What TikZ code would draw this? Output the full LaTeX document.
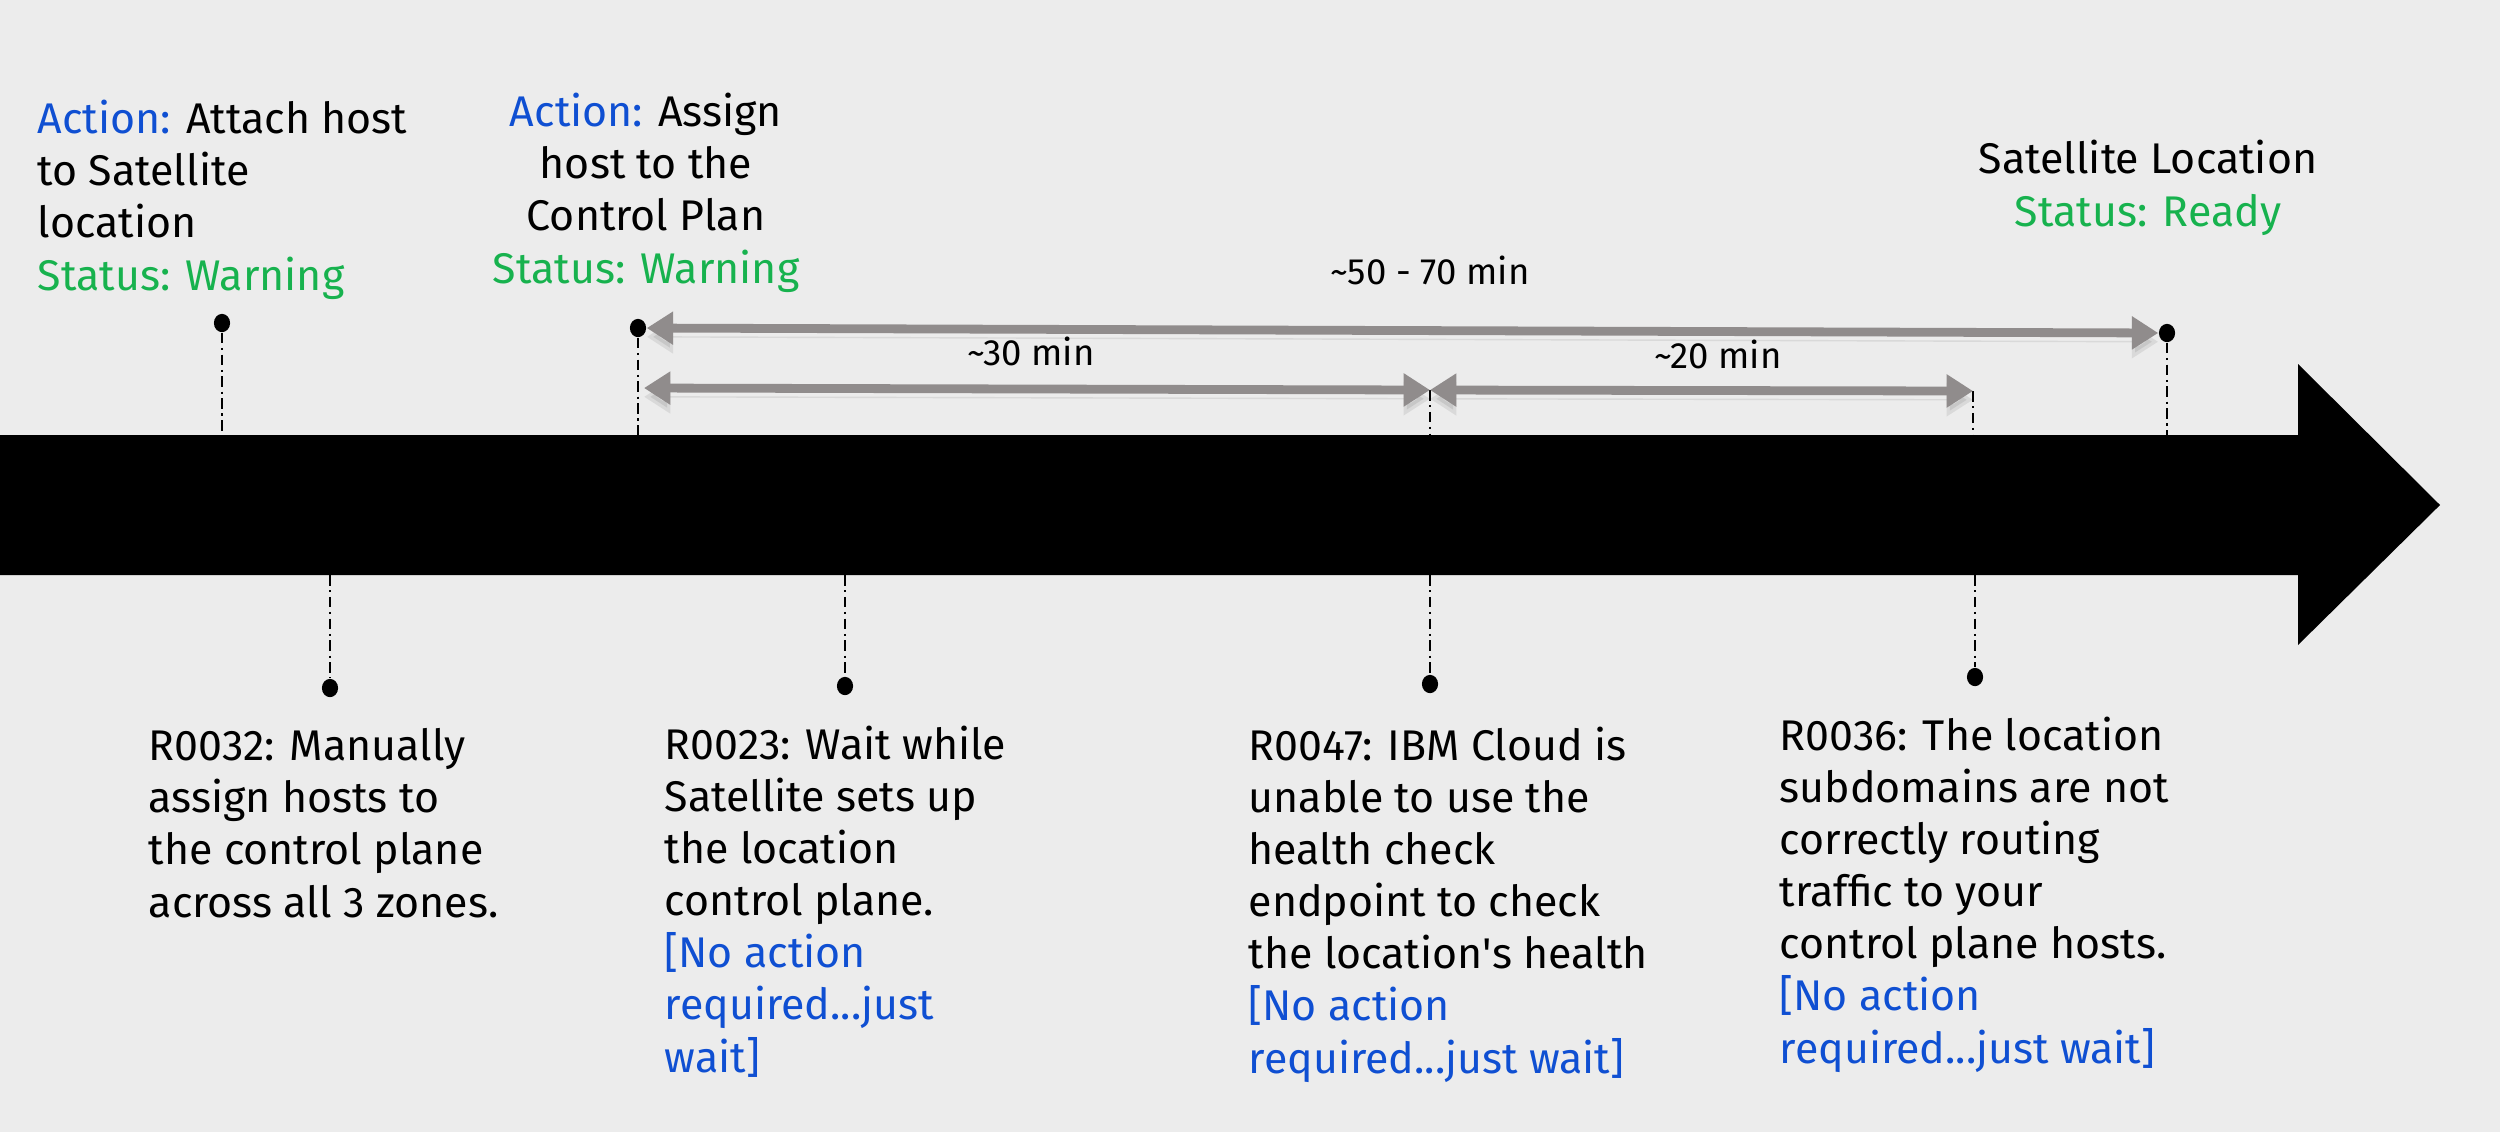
\documentclass[tikz,border=0pt]{standalone}
\usepackage{fontspec}
\setmainfont{Fira Sans}
\usepackage{xcolor}
\usepackage{tikz}
\usetikzlibrary{arrows.meta}
\definecolor{bgcol}{HTML}{ECECEC}
\definecolor{actblue}{HTML}{0F4FD2}
\definecolor{okgreen}{HTML}{17B24E}
\definecolor{spangray}{HTML}{908C8C}
\newcommand{\actc}[1]{\textcolor{actblue}{#1}}
\newcommand{\okc}[1]{\textcolor{okgreen}{#1}}
\tikzset{dot/.style={ellipse,fill=black,inner sep=0pt,minimum width=4.6pt,minimum height=5.2pt},
    tick/.style={draw,line width=0.5pt,dash pattern=on 3pt off 1.3pt on 0.6pt off 1.3pt},
    span/.style={draw=spangray,line width=2.5pt,
    {Triangle[width=9pt,length=7.5pt]}-{Triangle[width=9pt,length=7.5pt]},
    preaction={draw=black,opacity=0.08,transform canvas={yshift=-2.5pt}}},
    lbl/.style={font=\fontsize{12.2}{14.8}\selectfont,inner sep=0pt,align=left},
    dur/.style={font=\fontsize{10.4}{12}\selectfont,inner sep=0pt,anchor=base}}
\usetikzlibrary{shapes.geometric}

\begin{document}
\begin{tikzpicture}[x=0.01cm,y=-0.01cm]
            \fill[bgcol] (0,0) rectangle (2500,1132);
            \useasboundingbox (0,0) rectangle (2500,1132);
            \fill (0,435) -- (2298,435) -- (2298,364) -- (2440,505)
                -- (2298,645) -- (2298,575) -- (0,575) -- cycle;
            \coordinate (bartop) at (0,435);
            \coordinate (barbot) at (0,575);
            % above the bar
            \node[dot] (attach) at (222,323) {};
            \node[dot] (assign) at (638,328) {};
            \node[dot] (ready) at (2167,333) {};
            \coordinate (start30) at (644,388);
            \coordinate (mid) at (1430,390);
            \coordinate (end20) at (1973,391);
            \draw[tick] (attach) -- (attach |- bartop);
            \draw[tick] (assign) -- (assign |- bartop);
            \draw[tick] (ready) -- (ready |- bartop);
            \draw[tick] (mid) -- (mid |- bartop);
            \draw[tick] (end20) -- (end20 |- bartop);
            \draw[span] (assign) -- (ready);
            \draw[span] (start30) -- (mid);
            \draw[span] (mid) -- (end20);
            \node[dur] (d70) at (1430,284) {\textasciitilde50 - 70 min};
            \node[dur] (d30) at (1031,365) {\textasciitilde30 min};
            \node[dur] (d20) at (1718,368) {\textasciitilde20 min};
            \node[lbl,anchor=base west] (act1) at (37,290)
                {\actc{Action:} Attach host\\to Satellite\\location\\\okc{Status: Warning}};
            \node[lbl,align=center,anchor=base] (act2) at (646,283)
                {\actc{Action:} Assign\\host to the\\Control Plan\\\okc{Status: Warning}};
            \node[lbl,align=center,anchor=base] (loc) at (2148,226)
                {Satellite Location\\\okc{Status: Ready}};
            % below the bar
            \node[dot] (r32) at (330,688) {};
            \node[dot] (r23) at (845,686) {};
            \node[dot] (r47) at (1430,684) {};
            \node[dot] (r36) at (1975,677) {};
            \draw[tick] (r32 |- barbot) -- (r32);
            \draw[tick] (r23 |- barbot) -- (r23);
            \draw[tick] (r47 |- barbot) -- (r47);
            \draw[tick] (r36 |- barbot) -- (r36);
            \node[lbl,anchor=base west] (t32) at (148,917)
                {R0032: Manually\\assign hosts to\\the control plane\\across all 3 zones.};
            \node[lbl,anchor=base west] (t23) at (664,1072)
                {R0023: Wait while\\Satellite sets up\\the location\\control plane.\\
                \actc{[No action}\\\actc{required...just}\\\actc{wait]}};
            \node[lbl,anchor=base west] (t47) at (1248,1073)
                {R0047: IBM Cloud is\\unable to use the\\health check\\endpoint to check\\
                the location\textquotesingle s health\\\actc{[No action}\\\actc{required...just wait]}};
            \node[lbl,anchor=base west] (t36) at (1779,1063)
                {R0036: The location\\subdomains are not\\correctly routing\\traffic to your\\
                control plane hosts.\\\actc{[No action}\\\actc{required...just wait]}};
\end{tikzpicture}
\end{document}
